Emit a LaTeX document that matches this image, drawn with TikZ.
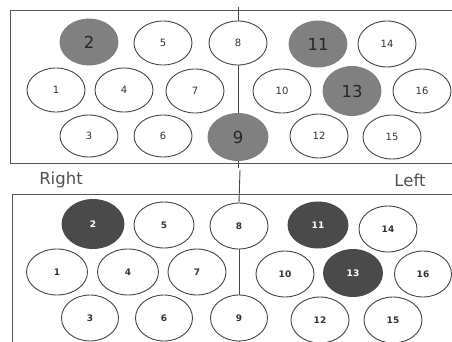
\documentclass[tikz,border=0pt]{standalone}
\usepackage{fontspec}
\setmainfont{DejaVu Sans}
\usetikzlibrary{shapes.geometric}
\definecolor{lineC}{HTML}{454545}
\definecolor{boxC}{HTML}{555555}
\definecolor{midgray}{HTML}{808080}
\definecolor{darkgray}{HTML}{4A4A4A}
\definecolor{txtC}{HTML}{333333}
\definecolor{lblC}{HTML}{505050}
\tikzset{
  seat/.style={ellipse, draw=lineC, line width=0.9pt, fill=white, inner sep=0pt,
    minimum width=58pt, minimum height=44pt, text=txtC, font=\fontsize{10}{12}\selectfont},
  hiA/.style={seat, draw=midgray, fill=midgray, text=black!85, minimum height=46pt, font=\fontsize{16.5}{18}\selectfont},
  seatB/.style={seat, minimum height=46pt, font=\bfseries\fontsize{9}{11}\selectfont},
  hiB/.style={seatB, draw=darkgray, fill=darkgray, text=white},
  frame/.style={draw=boxC, line width=0.9pt},
  axis/.style={draw=lineC, line width=0.9pt},
  side/.style={text=lblC, font=\fontsize{16.5}{19}\selectfont}
}
\begin{document}
\begin{tikzpicture}[x=1pt,y=-1pt]
\useasboundingbox (0,0) rectangle (452,342);
% top panel frame
\draw[frame] (470,10) -- (10,10) -- (10,163) -- (470,163);
% bottom panel frame
\draw[frame] (470,194) -- (12,194) -- (12,360);
% top seats
\node[hiA]  (t2)  at (89,42)  {2};
\node[seat] (t5)  at (163,43) {5};
\node[seat] (t8)  at (238,43) {8};
\node[hiA]  (t11) at (318,44) {11};
\node[seat, minimum height=46pt] (t14) at (387,44) {14};
\node[seat] (t1)  at (56,90)  {1};
\node[seat] (t4)  at (124,90) {4};
\node[seat] (t7)  at (195,91) {7};
\node[seat] (t10) at (282,91) {10};
\node[hiA, minimum height=49pt]  (t13) at (352,91) {13};
\node[seat] (t16) at (422,91) {16};
\node[seat, minimum height=42pt] (t3)  at (89,136) {3};
\node[seat, minimum height=42pt] (t6)  at (163,136) {6};
\node[hiA, minimum width=60pt, minimum height=47pt] (t9)  at (238,137) {9};
\node[seat] (t12) at (319,136) {12};
\node[seat] (t15) at (392,137) {15};
\coordinate (ttop) at (238,7);
\coordinate (tbot) at (238,168);
\draw[axis] (ttop) -- (t8.north);
\draw[axis] (t8.south) -- (t9.north);
\draw[axis] (t9.south) -- (tbot);
% labels
\node[side] (right) at (61,180) {Right};
\node[side] (left) at (410,180) {Left};
% bottom seats
\node[hiB, minimum width=62pt, minimum height=49pt] (b2) at (93,224) {2};
\node[seatB, minimum width=60pt] (b5) at (164,225) {5};
\node[seatB] (b8) at (239,226) {8};
\node[hiB, minimum width=60pt] (b11) at (318,225) {11};
\node[seatB] (b14) at (388,229) {14};
\node[seatB, minimum width=61pt] (b1) at (57,272) {1};
\node[seatB, minimum width=61pt] (b4) at (128,272) {4};
\node[seatB] (b7) at (197,272) {7};
\node[seatB] (b10) at (285,274) {10};
\node[hiB, minimum width=59pt, minimum height=47pt] (b13) at (353,273) {13};
\node[seatB, minimum width=57pt] (b16) at (423,274) {16};
\node[seatB, minimum width=57pt] (b3) at (90,318) {3};
\node[seatB, minimum width=57pt] (b6) at (164,318) {6};
\node[seatB, minimum width=57pt] (b9) at (239,318) {9};
\node[seatB] (b12) at (320,320) {12};
\node[seatB] (b15) at (393,320) {15};
\coordinate (btop) at (240,170);
\coordinate (bbot) at (239,345);
\draw[axis] (btop) -- (b8.north);
\draw[axis] (b8.south) -- (b9.north);
\draw[axis] (b9.south) -- (bbot);
\end{tikzpicture}
\end{document}
